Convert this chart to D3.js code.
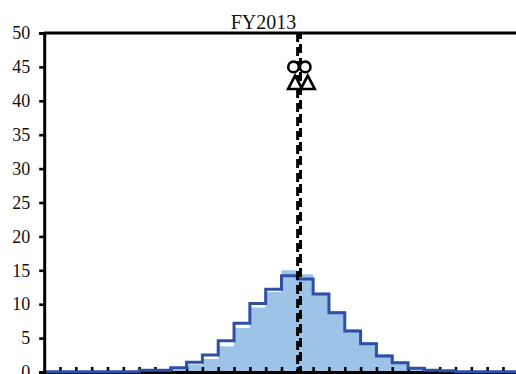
<!DOCTYPE html>
<html>
<head>
<meta charset="utf-8">
<script src="https://cdn.jsdelivr.net/npm/d3@7"></script>
<style>
  html, body { margin: 0; padding: 0; background: #fff; overflow: hidden; }
  svg { display: block; overflow: hidden; }
</style>
</head>
<body>
<svg id="chart" width="516" height="374"></svg>
<script>
// Chart title
const title = "FY2013";

// Histogram bins (index of each bin along the x axis)
const binIndex = d3.range(30);

// Shaded histogram (filled bars)
const barValues = [0, 0, 0, 0, 0, 0, 0.1, 0.15, 0.4, 1.1,
                   1.9, 3.8, 6.5, 9.5, 11.8, 15.0, 14.4, 11.7, 9.0, 6.3,
                   4.4, 2.6, 1.5, 0.6, 0.2, 0.15, 0.05, 0.02, 0, 0];

// Outline histogram (step line)
const stepValues = [0.05, 0.05, 0.05, 0.05, 0.05, 0.05, 0.25, 0.25, 0.63, 1.45,
                    2.5, 4.6, 7.2, 10.1, 12.2, 14.2, 13.7, 11.5, 8.75, 6.05,
                    4.15, 2.35, 1.37, 0.55, 0.25, 0.2, 0.05, 0.05, 0.05, 0.05];

// Reference lines (bin position)
const refLines = [16.02, 16.2];

// Summary markers
const circleMarks = [{ x: 15.76, y: 45 }, { x: 16.5, y: 45 }];
const triangleMarks = [{ x: 15.86, y: 42.4 }, { x: 16.66, y: 42.4 }];

// Axis ticks
const yTicks = [0, 5, 10, 15, 20, 25, 30, 35, 40, 45, 50];
const xTicks = d3.range(1, 30);

const svg = d3.select("#chart");
const serif = "'Liberation Serif', 'Times New Roman', serif";

const x = d3.scaleLinear().domain([0, 30]).range([44.2, 518.8]);
const y = d3.scaleLinear().domain([0, 50]).range([372, 33]);

const fillColor = "#9dc3e6";
const lineColor = "#2e4fa4";

// Filled histogram as one stepped area
const barPoints = binIndex.map(i => [i, barValues[i]]).concat([[30, barValues[29]]]);
svg.append("path")
  .datum(barPoints)
  .attr("fill", fillColor)
  .attr("d", d3.area().x(d => x(d[0])).y0(y(0)).y1(d => y(d[1])).curve(d3.curveStepAfter));

// Top border of the plot frame (runs on past the visible width)
svg.append("line")
  .attr("x1", x(0)).attr("x2", 516)
  .attr("y1", y(50)).attr("y2", y(50))
  .attr("stroke", "#000").attr("stroke-width", 3);

// Bottom axis: tick marks pointing inward, no labels
const xAxis = svg.append("g")
  .attr("transform", `translate(0,${y(0)})`)
  .call(d3.axisBottom(x).tickValues(xTicks).tickSizeInner(-5).tickSizeOuter(0).tickFormat(""));
xAxis.select(".domain").attr("stroke", "#000").attr("stroke-width", 3);
xAxis.selectAll(".tick line").attr("stroke", "#000").attr("stroke-width", 2.6);

// Step outline
const stepPoints = binIndex.map(i => [i, stepValues[i]]).concat([[30, stepValues[29]]]);
svg.append("path")
  .datum(stepPoints)
  .attr("fill", "none")
  .attr("stroke", lineColor)
  .attr("stroke-width", 3)
  .attr("d", d3.line().x(d => x(d[0])).y(d => y(d[1])).curve(d3.curveStepAfter));

// Left axis
const yAxis = svg.append("g")
  .attr("transform", `translate(${x(0)},0)`)
  .call(d3.axisLeft(y).tickValues(yTicks).tickSize(5).tickPadding(9));
yAxis.select(".domain").attr("stroke", "#000").attr("stroke-width", 3);
yAxis.selectAll(".tick line").attr("stroke", "#000").attr("stroke-width", 2.6);
yAxis.selectAll(".tick text")
  .attr("font-family", serif)
  .attr("font-size", 18)
  .attr("fill", "#111");

// Dashed reference lines
svg.append("g")
  .selectAll("line")
  .data(refLines)
  .join("line")
  .attr("x1", d => x(d)).attr("x2", d => x(d))
  .attr("y1", y(50)).attr("y2", y(0))
  .attr("stroke", "#000")
  .attr("stroke-width", 3)
  .attr("stroke-dasharray", "9 5")
  .attr("stroke-dashoffset", (d, i) => i * 3);

// Circle markers
svg.append("g")
  .selectAll("circle")
  .data(circleMarks)
  .join("circle")
  .attr("cx", d => x(d.x))
  .attr("cy", d => y(d.y))
  .attr("r", 5.3)
  .attr("fill", "#fff")
  .attr("stroke", "#000")
  .attr("stroke-width", 2.6);

// Triangle markers
const triH = 13.5, triW = 14;
svg.append("g")
  .selectAll("path")
  .data(triangleMarks)
  .join("path")
  .attr("d", d => {
    const cx = x(d.x), cy = y(d.y);
    return `M${cx},${cy - triH * 2 / 3}L${cx + triW / 2},${cy + triH / 3}L${cx - triW / 2},${cy + triH / 3}Z`;
  })
  .attr("fill", "#fff")
  .attr("stroke", "#000")
  .attr("stroke-width", 2.6)
  .attr("stroke-linejoin", "miter");

// Title
svg.append("text")
  .attr("x", 263.5)
  .attr("y", 28.5)
  .attr("text-anchor", "middle")
  .attr("font-family", serif)
  .attr("font-size", 20)
  .attr("fill", "#111")
  .text(title);
</script>
</body>
</html>
